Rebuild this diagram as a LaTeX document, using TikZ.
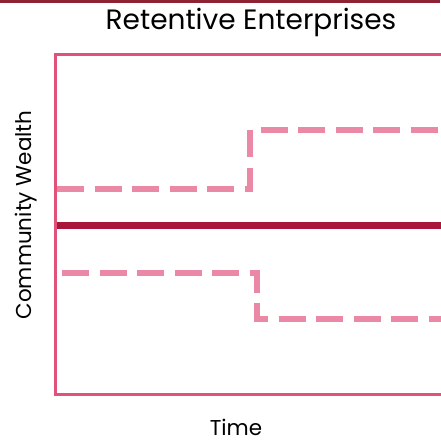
\documentclass[tikz,border=0pt]{standalone}
\usepackage{fontspec}
\setmainfont{Poppins}
\definecolor{topbar}{HTML}{8E2233}
\definecolor{frame}{HTML}{E0527A}
\definecolor{base}{HTML}{A8163A}
\definecolor{dashpink}{HTML}{EA88A6}
\begin{document}
\begin{tikzpicture}[x=1pt,y=-1pt,
  framestyle/.style={draw=frame,line width=3pt},
  baseline/.style={draw=base,line width=7pt},
  scen/.style={draw=dashpink,line width=6pt,dash pattern=on 27pt off 10.5pt},
  lbl/.style={font=\fontsize{21.5}{26}\selectfont,text=black,inner sep=0pt}]
\useasboundingbox (0,0) rectangle (440,442);
\fill[topbar] (0,0) rectangle (440,3);
\node[font=\fontsize{28}{32}\selectfont,inner sep=0pt] (title) at (251,22) {Retentive Enterprises};
\coordinate (tl) at (55.5,54);
\coordinate (br) at (445,394);
\draw[framestyle] (tl) rectangle (br);
\coordinate (b1) at (57,225);
\coordinate (b2) at (442,225);
\draw[baseline] (b1) -- (b2);
\coordinate (u1) at (57,189);
\coordinate (u2) at (250,189);
\coordinate (u3) at (250,130);
\coordinate (u4) at (442,130);
\draw[scen] (u1) -- (u2) -- (u3) -- (u4);
\coordinate (l1) at (62,273);
\coordinate (l2) at (257,273);
\coordinate (l3) at (257,319);
\coordinate (l4) at (442,319);
\draw[scen] (l1) -- (l2) -- (l3) -- (l4);
\node[lbl,rotate=90] (ylab) at (26,215) {Community Wealth};
\node[lbl] (xlab) at (236,427) {Time};
\end{tikzpicture}
\end{document}
